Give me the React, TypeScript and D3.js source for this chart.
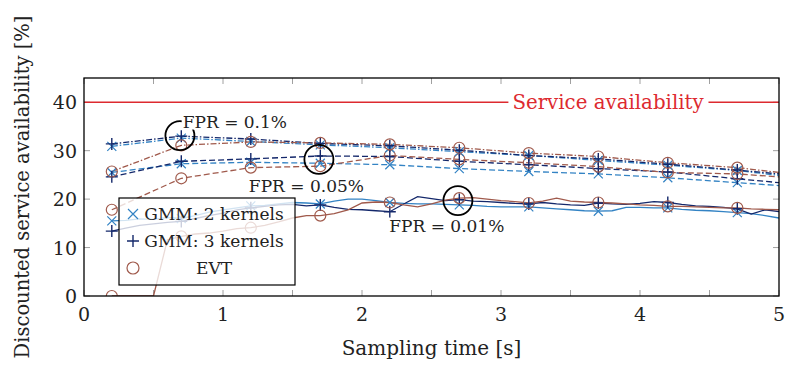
import React, { useRef, useEffect } from "react";
import * as d3 from "d3";

// x grid of the FPR = 0.01% runs (fine sampling)
const fineX = [
  0.2, 0.3, 0.4, 0.5, 0.6, 0.7, 0.8, 0.9, 1.0, 1.1, 1.2, 1.3, 1.4, 1.5, 1.6, 1.7,
  1.8, 1.9, 2.0, 2.1, 2.2, 2.3, 2.4, 2.5, 2.6, 2.7, 2.8, 2.9, 3.0, 3.1, 3.2, 3.3,
  3.4, 3.5, 3.6, 3.7, 3.8, 3.9, 4.0, 4.1, 4.2, 4.3, 4.4, 4.5, 4.6, 4.7, 4.8, 4.9, 5.0,
];
// x grid of the smoother FPR = 0.05% / 0.1% runs
const coarseX = [0.2, 0.7, 1.2, 1.7, 2.2, 2.7, 3.2, 3.7, 4.2, 4.7, 5.0];
const markerX = [0.2, 0.7, 1.2, 1.7, 2.2, 2.7, 3.2, 3.7, 4.2, 4.7];

// FPR = 0.01% (solid)
const gmm2Fpr001 = [
  15.5, 15.6, 15.9, 15.8, 16.2, 16.0, 16.6, 17.3, 17.8, 18.2, 18.6, 18.7, 19.0, 19.3, 19.2, 19.0,
  19.6, 20.0, 20.0, 19.7, 19.3, 19.1, 19.0, 19.0, 18.9, 18.8, 18.7, 18.5, 18.4, 18.4, 18.4, 18.2,
  18.0, 17.8, 17.6, 17.5, 17.6, 18.3, 18.3, 18.2, 18.2, 17.9, 17.7, 17.6, 17.4, 17.2, 17.0, 16.6, 16.1,
];
const gmm3Fpr001 = [
  13.4, 14.0, 14.6, 14.9, 15.2, 15.4, 16.0, 16.6, 17.1, 17.8, 18.2, 18.5, 18.8, 18.9, 18.6, 18.8,
  18.3, 17.9, 17.8, 17.6, 17.4, 19.0, 20.5, 20.1, 19.7, 19.9, 19.6, 19.5, 19.3, 19.1, 19.0, 19.3,
  19.0, 18.8, 18.7, 19.2, 19.0, 18.9, 19.1, 19.5, 19.3, 18.9, 18.6, 18.5, 18.3, 18.0, 16.9, 17.8, 17.4,
];
const evtFpr001 = [
  0, 0, 0, 0, 11.6, 12.3, 12.8, 13.0, 13.4, 13.9, 14.1, 14.6, 15.3, 16.1, 16.6, 16.6,
  17.0, 17.8, 19.2, 19.4, 19.3, 18.8, 18.4, 19.0, 19.8, 20.2, 20.3, 20.0, 19.7, 19.5, 19.2, 19.6,
  20.2, 19.6, 19.4, 19.3, 19.2, 19.0, 18.8, 18.7, 18.5, 18.5, 18.4, 18.3, 18.2, 18.2, 18.0, 17.9, 17.8,
];

// FPR = 0.05% (dashed)
const gmm2Fpr005 = [25.5, 27.3, 27.6, 27.4, 27.1, 26.3, 25.7, 25.2, 24.4, 23.4, 22.8];
const gmm3Fpr005 = [24.6, 27.8, 28.3, 28.9, 28.8, 27.8, 27.1, 26.3, 25.6, 24.2, 23.4];
const evtFpr005 = [17.8, 24.3, 26.5, 26.8, 29.0, 28.2, 27.5, 26.7, 25.5, 25.2, 24.6];

// FPR = 0.1% (dash-dot)
const gmm2Fpr01 = [30.9, 32.6, 31.9, 31.2, 30.6, 29.8, 29.0, 28.0, 27.0, 25.9, 24.9];
const gmm3Fpr01 = [31.4, 33.0, 32.4, 31.5, 31.0, 30.1, 29.0, 28.3, 27.2, 26.0, 25.2];
const evtFpr01 = [25.7, 31.1, 31.8, 31.6, 31.3, 30.6, 29.5, 28.8, 27.5, 26.5, 25.5];

const serviceAvailability = 40;
const xTicks = [0, 1, 2, 3, 4, 5];
const xMinorTicks = [0, 0.5, 1, 1.5, 2, 2.5, 3, 3.5, 4, 4.5, 5];
const yTicks = [0, 10, 20, 30, 40];

// annotation circles and their labels (data coordinates)
const annotations = [
  { x: 0.69, y: 33.1, label: "FPR = 0.1%", tx: 0.71, ty: 36.0, anchor: "start" },
  { x: 1.69, y: 28.2, label: "FPR = 0.05%", tx: 1.6, ty: 22.8, anchor: "middle" },
  { x: 2.69, y: 19.7, label: "FPR = 0.01%", tx: 2.61, ty: 14.5, anchor: "middle" },
];

const colors = { gmm2: "#3383c4", gmm3: "#14286b", evt: "#a05a4c", red: "#dd2a2f" };
const FONT = "DejaVu Serif";

const series = [
  { key: "gmm2", xs: fineX, ys: gmm2Fpr001, dash: null },
  { key: "gmm3", xs: fineX, ys: gmm3Fpr001, dash: null },
  { key: "evt", xs: fineX, ys: evtFpr001, dash: null },
  { key: "gmm2", xs: coarseX, ys: gmm2Fpr005, dash: "6,3" },
  { key: "gmm3", xs: coarseX, ys: gmm3Fpr005, dash: "6,3" },
  { key: "evt", xs: coarseX, ys: evtFpr005, dash: "6,3" },
  { key: "gmm2", xs: coarseX, ys: gmm2Fpr01, dash: "6,2,1.5,2" },
  { key: "gmm3", xs: coarseX, ys: gmm3Fpr01, dash: "6,2,1.5,2" },
  { key: "evt", xs: coarseX, ys: evtFpr01, dash: "6,2,1.5,2" },
];

function drawMarker(g, key, cx, cy, big = false) {
  const c = colors[key];
  if (key === "gmm2") {
    const s = big ? 5 : 4.5;
    g.append("path")
      .attr("d", `M${cx - s},${cy - s}L${cx + s},${cy + s}M${cx - s},${cy + s}L${cx + s},${cy - s}`)
      .attr("stroke", c).attr("stroke-width", 1.2).attr("fill", "none");
  } else if (key === "gmm3") {
    const s = 6;
    g.append("path")
      .attr("d", `M${cx - s},${cy}L${cx + s},${cy}M${cx},${cy - s}L${cx},${cy + s}`)
      .attr("stroke", c).attr("stroke-width", 1.4).attr("fill", "none");
  } else {
    g.append("circle")
      .attr("cx", cx).attr("cy", cy).attr("r", big ? 6 : 5.5)
      .attr("stroke", c).attr("stroke-width", 1.2).attr("fill", "none");
  }
}

export default function App() {
  const ref = useRef(null);

  useEffect(() => {
    const width = 797;
    const height = 375;
    const margin = { top: 78, right: 18, bottom: 79, left: 84 };
    const iw = width - margin.left - margin.right;
    const ih = height - margin.top - margin.bottom;

    const svg = d3.select(ref.current);
    svg.selectAll("*").remove();
    svg.attr("width", width).attr("height", height);

    const x = d3.scaleLinear().domain([0, 5]).range([margin.left, margin.left + iw]);
    const y = d3.scaleLinear().domain([0, 45]).range([margin.top + ih, margin.top]);

    const clip = svg.append("defs").append("clipPath").attr("id", "plot-clip");
    clip.append("rect").attr("x", margin.left).attr("y", margin.top).attr("width", iw).attr("height", ih);

    // ticks (inside, grey)
    const ticks = svg.append("g").attr("stroke", "#a0a0a0").attr("stroke-width", 1);
    xMinorTicks.forEach((t) => {
      ticks.append("line").attr("x1", x(t)).attr("x2", x(t)).attr("y1", y(0)).attr("y2", y(0) - 6);
      ticks.append("line").attr("x1", x(t)).attr("x2", x(t)).attr("y1", y(45)).attr("y2", y(45) + 6);
    });
    yTicks.forEach((t) => {
      ticks.append("line").attr("x1", x(0)).attr("x2", x(0) + 6).attr("y1", y(t)).attr("y2", y(t));
      ticks.append("line").attr("x1", x(5)).attr("x2", x(5) - 6).attr("y1", y(t)).attr("y2", y(t));
    });

    const plot = svg.append("g").attr("clip-path", "url(#plot-clip)");

    // service availability line
    plot.append("line")
      .attr("x1", x(0)).attr("x2", x(5))
      .attr("y1", y(serviceAvailability)).attr("y2", y(serviceAvailability))
      .attr("stroke", colors.red).attr("stroke-width", 1.4);

    const line = d3.line().x((d) => x(d[0])).y((d) => y(d[1]));

    series.forEach((s) => {
      const pts = s.xs.map((v, i) => [v, s.ys[i]]);
      plot.append("path")
        .attr("d", line(pts))
        .attr("fill", "none")
        .attr("stroke", colors[s.key])
        .attr("stroke-width", 1.3)
        .attr("stroke-dasharray", s.dash);
    });
    series.forEach((s) => {
      s.xs.forEach((v, i) => {
        if (markerX.some((m) => Math.abs(m - v) < 1e-6)) drawMarker(plot, s.key, x(v), y(s.ys[i]));
      });
    });

    // "Service availability" label with white background
    const sa = svg.append("g");
    const saText = sa.append("text")
      .attr("x", x(3.77)).attr("y", y(serviceAvailability))
      .attr("text-anchor", "middle").attr("dominant-baseline", "central")
      .attr("font-family", FONT).attr("font-size", 19.8).attr("fill", colors.red)
      .text("Service availability");
    const sb = saText.node().getBBox();
    sa.insert("rect", "text")
      .attr("x", sb.x - 4).attr("y", sb.y).attr("width", sb.width + 8).attr("height", sb.height)
      .attr("fill", "#fff");

    // annotations
    annotations.forEach((a) => {
      svg.append("circle")
        .attr("cx", x(a.x)).attr("cy", y(a.y)).attr("r", 14.5)
        .attr("fill", "none").attr("stroke", "#000").attr("stroke-width", 1.8);
      const ag = svg.append("g");
      const t = ag.append("text")
        .attr("x", x(a.tx)).attr("y", y(a.ty))
        .attr("text-anchor", a.anchor).attr("dominant-baseline", "central")
        .attr("font-family", FONT).attr("font-size", 17).attr("fill", "#222")
        .text(a.label);
      const b = t.node().getBBox();
      ag.insert("rect", "text")
        .attr("x", b.x - 1).attr("y", b.y + 2).attr("width", b.width + 2).attr("height", b.height - 4)
        .attr("fill", "#fff");
    });

    // frame
    svg.append("rect")
      .attr("x", margin.left).attr("y", margin.top).attr("width", iw).attr("height", ih)
      .attr("fill", "none").attr("stroke", "#000").attr("stroke-width", 1.3);

    // tick labels
    xTicks.forEach((t) => {
      svg.append("text")
        .attr("x", x(t)).attr("y", y(0) + 18)
        .attr("text-anchor", "middle").attr("dominant-baseline", "central")
        .attr("font-family", FONT).attr("font-size", 19).attr("fill", "#222")
        .text(t);
    });
    yTicks.forEach((t) => {
      svg.append("text")
        .attr("x", x(0) - 7).attr("y", y(t))
        .attr("text-anchor", "end").attr("dominant-baseline", "central")
        .attr("font-family", FONT).attr("font-size", 19).attr("fill", "#222")
        .text(t);
    });

    // axis titles
    svg.append("text")
      .attr("x", margin.left + iw / 2).attr("y", 348)
      .attr("text-anchor", "middle").attr("dominant-baseline", "central")
      .attr("font-family", FONT).attr("font-size", 20).attr("fill", "#222")
      .text("Sampling time [s]");
    svg.append("text")
      .attr("transform", `translate(22,${margin.top + ih / 2}) rotate(-90)`)
      .attr("text-anchor", "middle").attr("dominant-baseline", "central")
      .attr("font-family", FONT).attr("font-size", 19.5).attr("fill", "#222")
      .text("Discounted service availability [%]");

    // legend
    const lg = svg.append("g");
    lg.append("rect")
      .attr("x", 119).attr("y", 198).attr("width", 176).attr("height", 87)
      .attr("fill", "#fff").attr("fill-opacity", 0.78)
      .attr("stroke", "#000").attr("stroke-width", 1.2);
    const entries = [
      { key: "gmm2", label: "GMM: 2 kernels" },
      { key: "gmm3", label: "GMM: 3 kernels" },
      { key: "evt", label: "EVT" },
    ];
    entries.forEach((e, i) => {
      const cy = 214 + i * 27;
      drawMarker(lg, e.key, 133, cy, true);
      lg.append("text")
        .attr("x", 214).attr("y", cy)
        .attr("text-anchor", "middle").attr("dominant-baseline", "central")
        .attr("font-family", FONT).attr("font-size", 17).attr("fill", "#222")
        .text(e.label);
    });
  }, []);

  return <svg ref={ref} style={{ position: "absolute", left: 0, top: 0 }}></svg>;
}
